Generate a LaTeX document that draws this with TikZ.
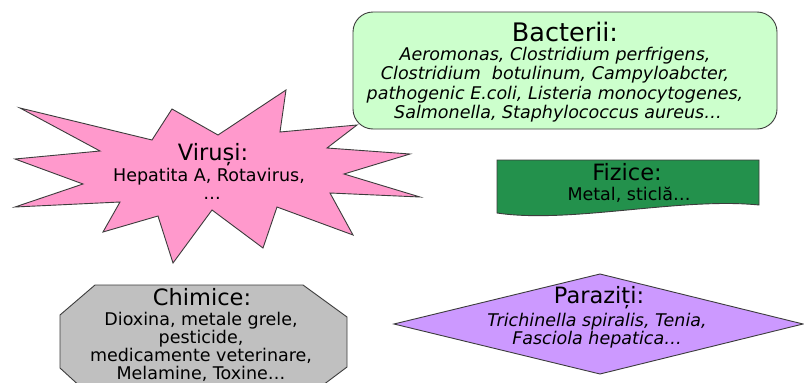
\documentclass[tikz,border=0pt]{standalone}
\usepackage{fontspec}
\setmainfont{DejaVu Sans}
\definecolor{starpink}{RGB}{255,153,204}
\definecolor{bacgreen}{RGB}{204,255,204}
\definecolor{fizgreen}{RGB}{35,145,76}
\definecolor{chimgray}{RGB}{192,192,192}
\definecolor{parlav}{RGB}{204,153,255}
\definecolor{edgegray}{RGB}{60,60,60}
\begin{document}
\begin{tikzpicture}[x=1pt,y=-1pt,
  shapeline/.style={draw=edgegray, line width=0.9pt, line join=miter},
  ttl/.style={anchor=base, inner sep=0pt, font=\fontsize{22.5}{24}\selectfont},
  bigttl/.style={anchor=base, inner sep=0pt, font=\fontsize{25.5}{27}\selectfont},
  bodytxt/.style={anchor=base, inner sep=0pt, font=\fontsize{17.5}{19.5}\selectfont},
  bodyit/.style={anchor=base, inner sep=0pt, font=\fontsize{17.5}{19.5}\selectfont\itshape},
]
\path[fill=white] (0,0) rectangle (804,383);
\useasboundingbox (0,0) rectangle (804,383);
\clip (0,0) rectangle (804,383);

% Virusi star
\filldraw[shapeline, fill=starpink]
  (20,108) -- (152,140) -- (172,109) -- (218,135) -- (286,90) -- (280,132)
  -- (357,125) -- (327,148) -- (410,154) -- (344,174) -- (420,197) -- (330,193)
  -- (353,235) -- (277,207) -- (263,248) -- (212,210) -- (173,263) -- (158,216)
  -- (103,232) -- (120,202) -- (15,207) -- (83,184) -- (15,159) -- (100,151) -- cycle;
\node[ttl] (vt) at (213,160) {Viruși:};
\node[bodytxt] (v1) at (209,181.7) {Hepatita A, Rotavirus,};
\node[bodytxt] (v2) at (212,199.3) {…};

% Bacterii box
\filldraw[shapeline, fill=bacgreen, rounded corners=20pt] (353,12) rectangle (777,129);
\node[bigttl] (bt) at (565,41.7) {Bacterii:};
\node[bodyit] (b1) at (555,60) {Aeromonas, Clostridium perfrigens,};
\node[bodyit] (b2) at (555,79.3) {Clostridium\ \ botulinum, Campyloabcter,};
\node[bodyit] (b3) at (555,99) {pathogenic E.coli, Listeria monocytogenes,};
\node[bodyit] (b4) at (558,118.3) {Salmonella, Staphylococcus aureus…};

% Fizice document shape
\filldraw[shapeline, fill=fizgreen]
  (497,160) -- (759,160) -- (759,205) .. controls (680,197) and (570,224) .. (497,213) -- cycle;
\node[ttl] (ft) at (627,180.7) {Fizice:};
\node[bodytxt] (f1) at (629,200.7) {Metal, sticlă…};

% Chimice octagon
\filldraw[shapeline, fill=chimgray]
  (95,285) -- (303,285) -- (347,317) -- (347,367) -- (303,400) -- (95,400)
  -- (60,368) -- (60,315) -- cycle;
\node[ttl] (ct) at (202,305) {Chimice:};
\node[bodytxt] (c1) at (201,325.5) {Dioxina, metale grele,};
\node[bodytxt] (c2) at (201,343.5) {pesticide,};
\node[bodytxt] (c3) at (201,361.5) {medicamente veterinare,};
\node[bodytxt] (c4) at (201,379.3) {Melamine, Toxine…};

% Paraziti diamond
\filldraw[shapeline, fill=parlav]
  (394,324) -- (600,274) -- (803,324) -- (600,374) -- cycle;
\node[ttl] (pt) at (599,303.3) {Paraziți:};
\node[bodyit] (p1) at (597,326) {Trichinella spiralis, Tenia,};
\node[bodyit] (p2) at (597,344) {Fasciola hepatica…};
\end{tikzpicture}
\end{document}
